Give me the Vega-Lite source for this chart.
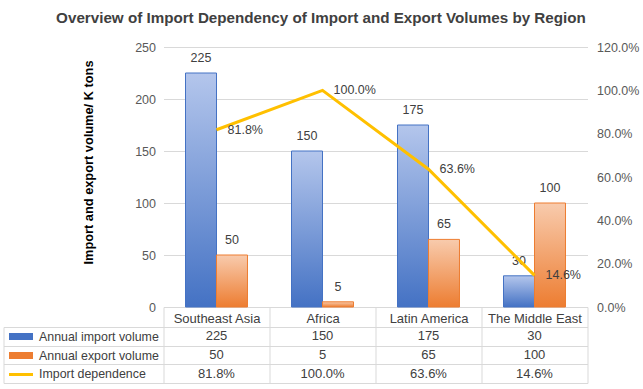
{
  "$schema": "https://vega.github.io/schema/vega-lite/v6.json",
  "width": 424,
  "height": 260,
  "padding": {"left": 2.5, "top": 11, "right": 4, "bottom": 4},
  "background": "white",
  "title": {
    "text": "Overview of Import Dependency of Import and Export Volumes by Region",
    "font": "Liberation Sans",
    "fontSize": 15.2,
    "fontWeight": "bold",
    "color": "#404040",
    "anchor": "middle",
    "frame": "bounds",
    "offset": 14.5
  },
  "config": {
    "view": {"stroke": null},
    "font": "Liberation Sans",
    "axis": {
      "labelFont": "Liberation Sans",
      "labelColor": "#595959",
      "labelFontSize": 12.5,
      "titleFont": "Liberation Sans"
    },
    "text": {"font": "Liberation Sans", "fontSize": 12.5, "color": "#404040"}
  },
  "data": {
    "values": [
      {"region": "Southeast Asia", "Annual import volume": 225, "Annual export volume": 50, "Import dependence": 0.818},
      {"region": "Africa", "Annual import volume": 150, "Annual export volume": 5, "Import dependence": 1.0},
      {"region": "Latin America", "Annual import volume": 175, "Annual export volume": 65, "Import dependence": 0.636},
      {"region": "The Middle East", "Annual import volume": 30, "Annual export volume": 100, "Import dependence": 0.146}
    ]
  },
  "layer": [
    {
      "transform": [{"fold": ["Annual import volume", "Annual export volume"], "as": ["series", "value"]}],
      "encoding": {
        "x": {
          "field": "region",
          "type": "nominal",
          "sort": null,
          "scale": {"paddingInner": 0, "paddingOuter": 0},
          "axis": {
            "title": null,
            "labelAngle": 0,
            "labelColor": "#404040",
            "labelFontSize": 13,
            "tickBand": "extent",
            "ticks": true,
            "tickSize": 76,
            "tickColor": "#d9d9d9",
            "domainColor": "#d9d9d9",
            "labelPadding": -71,
            "grid": false
          }
        },
        "xOffset": {
          "field": "series",
          "type": "nominal",
          "scale": {"domain": ["Annual import volume", "Annual export volume"], "paddingInner": 0, "paddingOuter": 0.71}
        },
        "y": {
          "field": "value",
          "type": "quantitative",
          "scale": {"domain": [0, 250], "nice": false},
          "axis": {
            "orient": "left",
            "values": [0, 50, 100, 150, 200, 250],
            "title": "Import and export volume/ K tons",
            "titleFontSize": 12.8,
            "titleFontWeight": "bold",
            "titleColor": "#000000",
            "titleX": -75,
            "titleY": 115,
            "titleAngle": -90,
            "titleBaseline": "middle",
            "domain": false,
            "ticks": false,
            "labelPadding": 8,
            "grid": true,
            "gridColor": "#d9d9d9"
          }
        }
      },
      "layer": [
        {
          "transform": [{"filter": "datum.series == 'Annual import volume'"}],
          "mark": {
            "type": "bar",
            "stroke": "#4472c4",
            "strokeWidth": 1,
            "fill": {
              "gradient": "linear", "x1": 0, "y1": 0, "x2": 0, "y2": 1,
              "stops": [{"offset": 0, "color": "#b4c6ec"}, {"offset": 1, "color": "#4472c4"}]
            }
          }
        },
        {
          "transform": [{"filter": "datum.series == 'Annual export volume'"}],
          "mark": {
            "type": "bar",
            "stroke": "#ed7d31",
            "strokeWidth": 1,
            "fill": {
              "gradient": "linear", "x1": 0, "y1": 0, "x2": 0, "y2": 1,
              "stops": [{"offset": 0, "color": "#f8cbad"}, {"offset": 1, "color": "#ed7d31"}]
            }
          }
        },
        {
          "mark": {"type": "text", "baseline": "bottom", "dy": -8},
          "encoding": {"text": {"field": "value", "type": "quantitative"}}
        }
      ]
    },
    {
      "encoding": {
        "x": {"field": "region", "type": "nominal", "sort": null},
        "y": {
          "field": "Import dependence",
          "type": "quantitative",
          "scale": {"domain": [0, 1.2], "nice": false},
          "axis": {
            "orient": "right",
            "title": null,
            "values": [0, 0.2, 0.4, 0.6, 0.8, 1.0, 1.2],
            "format": ".1%",
            "domain": false,
            "ticks": false,
            "grid": false,
            "labelPadding": 9
          }
        }
      },
      "layer": [
        {"mark": {"type": "line", "color": "#ffc000", "strokeWidth": 3}},
        {
          "mark": {"type": "text", "align": "left", "baseline": "middle", "dx": 11},
          "encoding": {"text": {"field": "Import dependence", "type": "quantitative", "format": ".1%"}}
        }
      ]
    },
    {
      "mark": {"type": "text", "baseline": "middle", "fontSize": 13},
      "encoding": {
        "x": {"field": "region", "type": "nominal", "sort": null},
        "y": {
          "datum": "Annual import volume",
          "type": "nominal",
          "scale": {"domain": ["Annual import volume", "Annual export volume", "Import dependence"], "range": [280, 336], "paddingInner": 0, "paddingOuter": 0},
          "axis": {
            "orient": "left",
            "title": null,
            "labels": false,
            "domain": false,
            "tickBand": "extent",
            "ticks": true,
            "tickSize": 160,
            "tickColor": "#d9d9d9",
            "grid": true,
            "gridColor": "#d9d9d9"
          }
        },
        "text": {"field": "Annual import volume", "type": "quantitative"}
      }
    },
    {
      "mark": {"type": "text", "baseline": "middle", "fontSize": 13},
      "encoding": {
        "x": {"field": "region", "type": "nominal", "sort": null},
        "y": {
          "datum": "Annual export volume",
          "type": "nominal",
          "scale": {"domain": ["Annual import volume", "Annual export volume", "Import dependence"], "range": [280, 336], "paddingInner": 0, "paddingOuter": 0},
          "axis": {
            "orient": "left",
            "offset": 160,
            "title": null,
            "labels": false,
            "ticks": false,
            "grid": false,
            "domain": true,
            "domainColor": "#d9d9d9"
          }
        },
        "text": {"field": "Annual export volume", "type": "quantitative"}
      }
    },
    {
      "mark": {"type": "text", "baseline": "middle", "fontSize": 13},
      "encoding": {
        "x": {"field": "region", "type": "nominal", "sort": null},
        "y": {
          "datum": "Import dependence",
          "type": "nominal",
          "scale": {"domain": ["Annual import volume", "Annual export volume", "Import dependence"], "range": [280, 336], "paddingInner": 0, "paddingOuter": 0},
          "axis": {
            "orient": "left",
            "offset": 131,
            "title": null,
            "domain": false,
            "grid": false,
            "ticks": true,
            "tickSize": 24,
            "tickColor": {
              "condition": [
                {"test": "datum.value == 'Annual import volume'", "value": "#4472c4"},
                {"test": "datum.value == 'Annual export volume'", "value": "#ed7d31"}
              ],
              "value": "#ffc000"
            },
            "tickWidth": {"condition": {"test": "datum.value == 'Import dependence'", "value": 3}, "value": 7},
            "labelAlign": "left",
            "labelBaseline": "middle",
            "labelPadding": -30,
            "labelColor": "#404040",
            "labelFontSize": 12.4
          }
        },
        "text": {"field": "Import dependence", "type": "quantitative", "format": ".1%"}
      }
    }
  ],
  "resolve": {"scale": {"y": "independent"}}
}
